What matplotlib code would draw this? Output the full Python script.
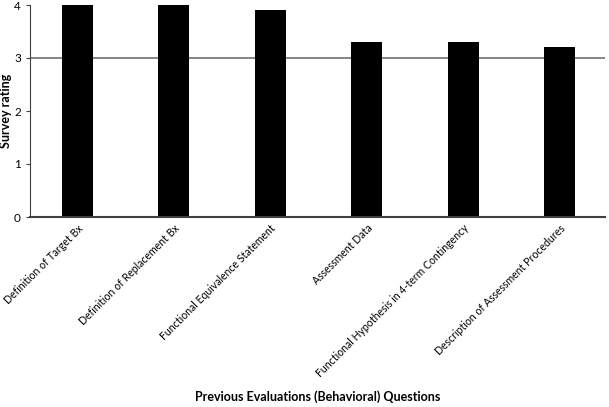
import matplotlib.pyplot as plt

# Survey ratings per question
questions = [
    "Definition of Target Bx",
    "Definition of Replacement Bx",
    "Functional Equivalence Statement",
    "Assessment Data",
    "Functional Hypothesis in 4-term Contingency",
    "Description of Assessment Procedures",
]
ratings = [4.0, 4.0, 3.9, 3.3, 3.3, 3.2]

plt.rcParams['font.family'] = ['Lato', 'DejaVu Sans']

fig = plt.figure(figsize=(6.09, 4.07), dpi=100)
ax = fig.add_axes([30 / 609, 1 - 217 / 407, 575 / 609, 212 / 407])

x = range(len(questions))
ax.axhline(3, color='#707070', lw=1.2, zorder=1)
ax.bar(x, ratings, width=0.32, color='black', zorder=2)

ax.set_xlim(-0.49, 5.47)
ax.set_ylim(0, 4)
ax.set_yticks([0, 1, 2, 3, 4])
ax.set_xticks(list(x))
ax.set_xticklabels(questions, rotation=45, ha='right', rotation_mode='anchor', fontsize=7.6)
ax.tick_params(axis='x', length=0, pad=4)
ax.tick_params(axis='y', length=3, labelsize=8.5, color='#404040')

for s in ['top', 'right']:
    ax.spines[s].set_visible(False)
ax.spines['left'].set_color('#404040')
ax.spines['bottom'].set_color('#404040')
ax.spines['bottom'].set_linewidth(1.5)

ax.set_ylabel("Survey rating", fontsize=9, fontweight='bold')
ax.yaxis.set_label_coords(-0.031, 0.5)
fig.text(318 / 609, 1 - 397 / 407, "Previous Evaluations (Behavioral) Questions",
         ha='center', va='center', fontsize=9, fontweight='bold')

fig.savefig("out.png", dpi=100)
